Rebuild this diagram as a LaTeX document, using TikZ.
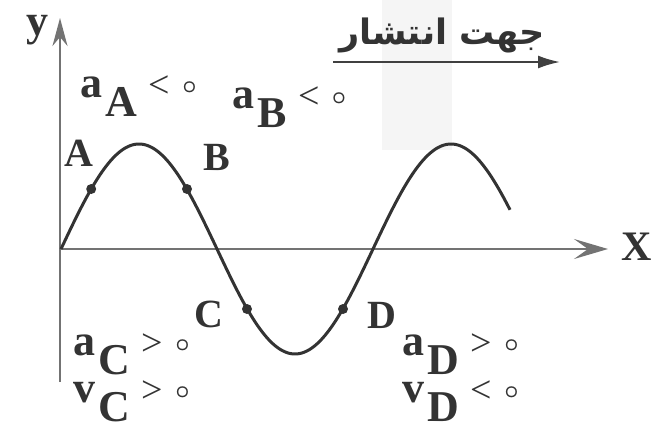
\documentclass[tikz,border=0pt]{standalone}
\usepackage{fontspec}
\setmainfont{Liberation Serif}
\newfontfamily\arabicfont[Script=Arabic]{DejaVu Sans}
\TeXXeTstate=1
\usetikzlibrary{arrows.meta}
\newcommand{\qlab}[3]{\textbf{#1}\kern3pt\raisebox{-19pt}{\textbf{#2}}\kern12pt{\fontsize{38}{38}\selectfont #3}\kern12pt\raisebox{4pt}{\fontsize{24}{24}\selectfont\boldmath$\circ$}}
\tikzset{
  axis/.style={draw=black!55, line width=2.4pt},
  wave/.style={draw=black!80, line width=3pt},
  dot/.style={circle, fill=black!80, inner sep=0pt, minimum size=10pt},
  ptlabel/.style={font=\fontsize{40}{40}\selectfont\bfseries, text=black!80, inner sep=0pt},
  qty/.style={font=\fontsize{44}{44}\selectfont, text=black!80, inner sep=0pt, anchor=base west},
}
\begin{document}
\begin{tikzpicture}[x=1pt,y=-1pt]
\useasboundingbox (0,0) rectangle (660,437);
\fill[black!4] (382,0) rectangle (452,150);
% axes
\coordinate (o) at (60,249);
\coordinate (ytop) at (60,18);
\coordinate (ybot) at (60,382);
\coordinate (xend) at (608,249);
\draw[axis, -{Stealth[length=28pt,width=15pt,inset=9pt]}] (ybot) -- (ytop);
\draw[axis, -{Stealth[length=34pt,width=20pt,inset=14pt]}] (o) -- (xend);
\node[ptlabel, font=\fontsize{44}{44}\selectfont\bfseries, anchor=base] (ylab) at (37,35) {y};
\node[ptlabel, font=\fontsize{42}{42}\selectfont\bfseries, anchor=base] (xlab) at (637,260) {X};
% wave
\draw[wave] plot[domain=61:510, samples=200, smooth] (\x, {249 - 105*sin((\x-61)*1.153846)});
\node[dot] (pA) at (91.2,189) {};
\node[dot] (pB) at (187,189) {};
\node[dot] (pC) at (247,309) {};
\node[dot] (pD) at (343,309) {};
\node[ptlabel] (lA) at (79,153) {A};
\node[ptlabel] (lB) at (217,157) {B};
\node[ptlabel] (lC) at (209,314) {C};
\node[ptlabel] (lD) at (382,315) {D};
% quantities
\node[qty] (qA) at (80,97) {\qlab{a}{A}{<}};
\node[qty] (qB) at (232,108) {\qlab{a}{B}{<}};
\node[qty] (qC) at (73,355) {\qlab{a}{C}{>}};
\node[qty] (vC) at (73,402) {\qlab{v}{C}{>}};
\node[qty] (qD) at (402,355) {\qlab{a}{D}{>}};
\node[qty] (vD) at (402,402) {\qlab{v}{D}{<}};
% propagation direction
\node[font=\fontsize{35}{35}\selectfont\arabicfont\bfseries, text=black!80] (dir) at (442,35) {\beginR جهت انتشار\endR};
\coordinate (d1) at (333,62);
\coordinate (d2) at (560,62);
\draw[draw=black!75, line width=2pt, -{Latex[length=22pt,width=13pt]}] (d1) -- (d2);
\end{tikzpicture}
\end{document}
